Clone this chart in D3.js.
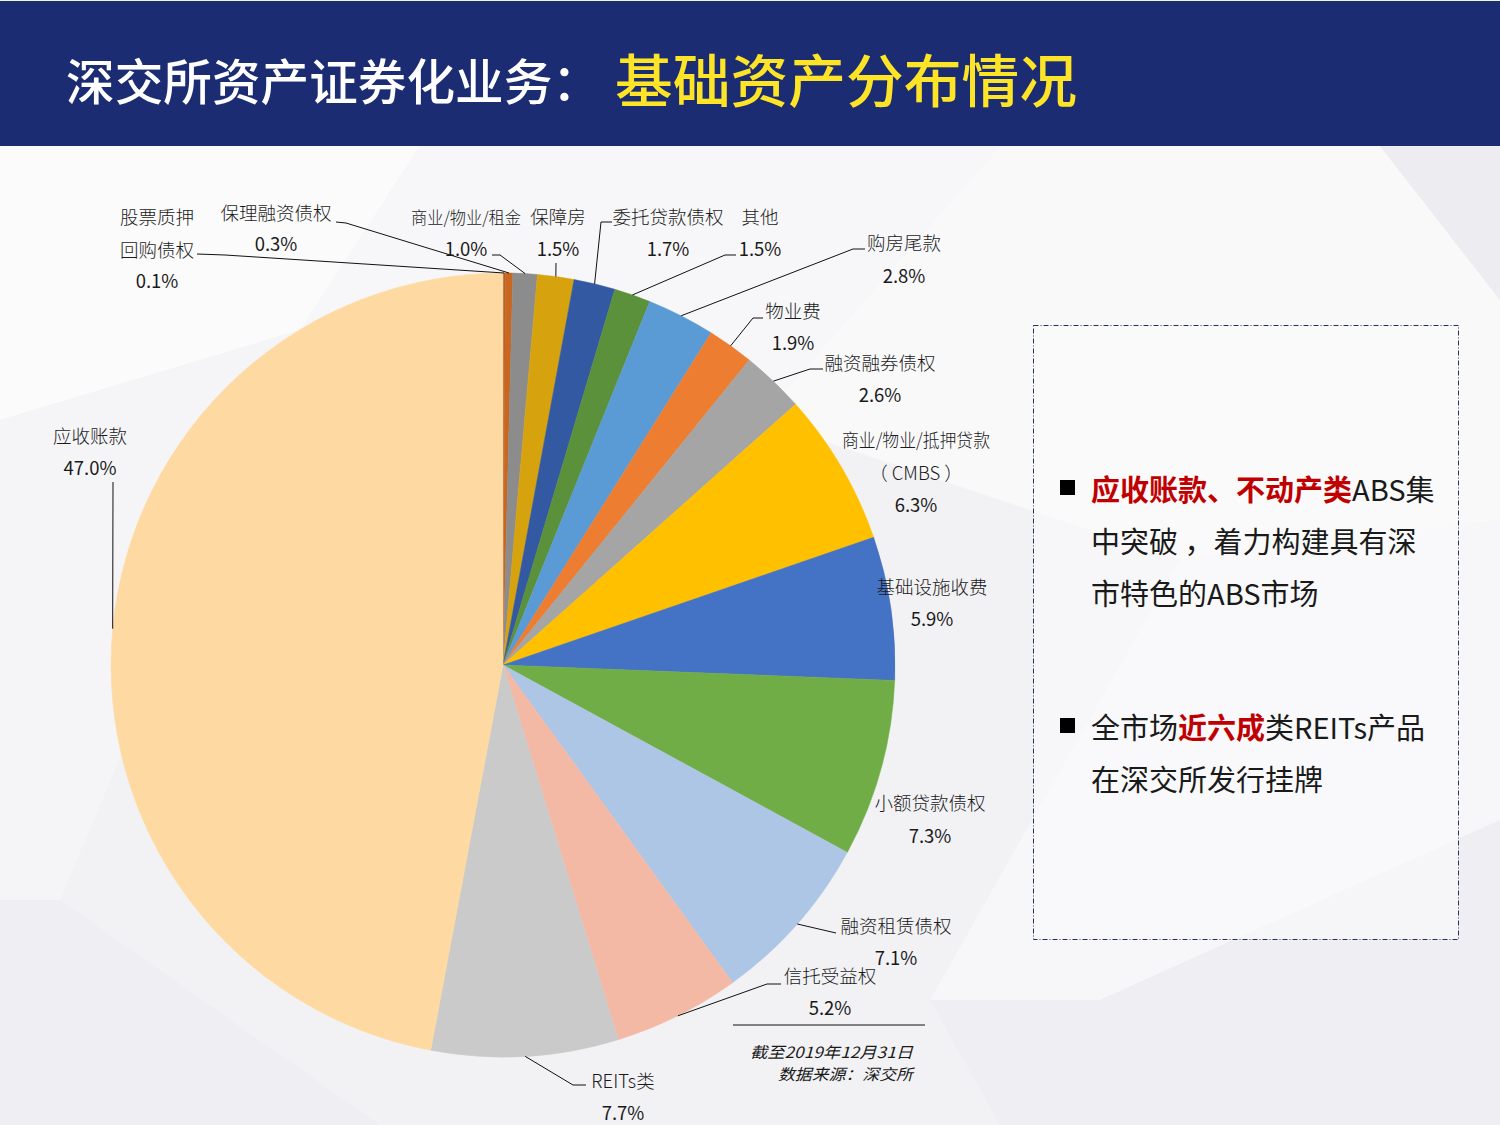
<!DOCTYPE html>
<html><head><meta charset="utf-8">
<script src="https://cdn.jsdelivr.net/npm/d3@7/dist/d3.min.js"></script>
<style>
html,body{margin:0;padding:0;background:#fff;}
svg{display:block;}
</style></head>
<body>
<svg id="chart" width="1500" height="1125"></svg>
<script>
// ---------- data ----------
const categories = ["股票质押回购债权","保理融资债权","商业/物业/租金","保障房","委托贷款债权","其他","购房尾款","物业费","融资融券债权","商业/物业/抵押贷款（CMBS）","基础设施收费","小额贷款债权","融资租赁债权","信托受益权","REITs类","应收账款"];
const values = [0.1,0.3,1.0,1.5,1.7,1.5,2.8,1.9,2.6,6.3,5.9,7.3,7.1,5.2,7.7,47.0];
const sliceColors = ["#b8612a","#c9661f","#8c8c8c","#d6a30f","#3459a3","#5a913a","#5b9bd5","#ed7d31","#a5a5a5","#ffc000","#4472c4","#70ad47","#adc6e5","#f4b9a4","#cacaca","#fedaa2"];
const titleWhite = "深交所资产证券化业务：";
const titleYellow = "基础资产分布情况";
const noteLines = ["截至2019年12月31日","数据来源：深交所"];

// ---------- layout (positions of labels, not data) ----------
const labelLayout = [
  {lines:["股票质押","回购债权"], x:157, y:216, py:280, lead:[[197,254],[225,255]]},
  {lines:["保理融资债权"], x:276, y:212, py:243, lead:[[336,222],[346,223]]},
  {lines:["商业/物业/租金"], x:466, y:216, py:248, lead:[[492,255],[500,255]], tl:110, fs:17},
  {lines:["保障房"], x:558, y:216, py:248, lead:[[556,263]]},
  {lines:["委托贷款债权"], x:668, y:216, py:248, lead:[[612,222],[601,222]]},
  {lines:["其他"], x:760, y:216, py:248, lead:[[736,255],[725,255]]},
  {lines:["购房尾款"], x:904, y:242, py:275, lead:[[865,249],[853,249]]},
  {lines:["物业费"], x:793, y:310, py:342, lead:[[763,318],[753,318]]},
  {lines:["融资融券债权"], x:880, y:362, py:394, lead:[[823,369],[810,369]]},
  {lines:["商业/物业/抵押贷款","（ CMBS ）"], x:916, y:439, py:504, lead:null, tl:148},
  {lines:["基础设施收费"], x:932, y:586, py:618, lead:null},
  {lines:["小额贷款债权"], x:930, y:802, py:835, lead:null},
  {lines:["融资租赁债权"], x:896, y:925, py:957, lead:[[836,933]]},
  {lines:["信托受益权"], x:830, y:975, py:1007, lead:[[781,984],[767,984]]},
  {lines:["REITs类"], x:623, y:1080, py:1112, lead:[[586,1085],[573,1085]]},
  {lines:["应收账款"], x:90, y:435, py:467, lead:[[113,482]]}
];

const svg = d3.select("#chart");
const W = 1500, H = 1125;

// ---------- background ----------
svg.append("rect").attr("width",W).attr("height",H).attr("fill","#f2f2f5");
const bgPolys = [
  {pts:[[0,146],[420,146],[300,330],[0,420]], c:"#fbfbfc"},
  {pts:[[420,146],[1000,146],[760,420],[300,330]], c:"#f7f7f9"},
  {pts:[[1000,146],[1380,146],[1500,300],[1500,520],[1180,560],[760,420]], c:"#f9f9fa"},
  {pts:[[1380,146],[1500,146],[1500,300]], c:"#ededf1"},
  {pts:[[0,420],[300,330],[60,900],[0,900]], c:"#f5f5f8"},
  {pts:[[1180,560],[1500,520],[1500,820],[1100,1000],[930,1000]], c:"#f7f7f9"},
  {pts:[[930,1000],[1100,1000],[1500,820],[1500,1125],[1000,1125]], c:"#efeff3"},
  {pts:[[0,900],[60,900],[380,1125],[0,1125]], c:"#efeff3"}
];
svg.append("g").selectAll("polygon").data(bgPolys).join("polygon")
  .attr("points",d=>d.pts.map(p=>p.join(",")).join(" "))
  .attr("fill",d=>d.c);

// ---------- header ----------
svg.append("rect").attr("x",0).attr("y",1).attr("width",W).attr("height",145).attr("fill","#1b2c72");
const font = "'Noto Sans CJK SC','Noto Sans',sans-serif";
svg.append("text").attr("x",66).attr("y",100).attr("font-family",font)
  .attr("fill","#ffffff").attr("font-size",49).attr("font-weight",500)
  .attr("textLength",535).attr("lengthAdjust","spacingAndGlyphs").text(titleWhite);
svg.append("text").attr("x",615).attr("y",102).attr("font-family",font)
  .attr("fill","#fde427").attr("font-size",57).attr("font-weight",500)
  .attr("textLength",462).attr("lengthAdjust","spacingAndGlyphs").text(titleYellow);

// ---------- pie ----------
const cx = 503, cy = 665, R = 392;
const pie = d3.pie().sort(null).value(d=>d)(values);
const arc = d3.arc().innerRadius(0).outerRadius(R);
const g = svg.append("g").attr("transform",`translate(${cx},${cy})`);
g.selectAll("path").data(pie).join("path")
  .attr("d",arc).attr("fill",(d,i)=>sliceColors[i])
  .attr("stroke",(d,i)=>sliceColors[i]).attr("stroke-width",0.5);

// ---------- leader lines ----------
const lg = svg.append("g");
pie.forEach((d,i)=>{
  const L = labelLayout[i];
  if(!L.lead) return;
  const mid = (d.startAngle + d.endAngle)/2;
  const ex = cx + Math.sin(mid)*R, ey = cy - Math.cos(mid)*R;
  const pts = L.lead.concat([[ex,ey]]);
  lg.append("polyline").attr("points",pts.map(p=>p.join(",")).join(" "))
    .attr("fill","none").attr("stroke","#111").attr("stroke-width",1);
});

// ---------- labels ----------
const tg = svg.append("g").attr("font-family",font).attr("fill","#1a1a1a").attr("text-anchor","middle");
labelLayout.forEach((L,i)=>{
  L.lines.forEach((s,k)=>{
    const t = tg.append("text").attr("x",L.x).attr("y",L.y + k*33).attr("dominant-baseline","central")
      .attr("font-size",(k===0 && L.fs) ? L.fs : 18.5).attr("font-weight",300).text(s);
    if(L.tl && k===0) t.attr("textLength",L.tl).attr("lengthAdjust","spacingAndGlyphs");
  });
  tg.append("text").attr("x",L.x).attr("y",L.py).attr("dominant-baseline","central")
    .attr("font-size",18.5).attr("font-weight",400).text(d3.format(".1f")(values[i])+"%");
});

// ---------- footnote ----------
svg.append("line").attr("x1",733).attr("x2",925).attr("y1",1025).attr("y2",1025)
  .attr("stroke","#111").attr("stroke-width",1.2);
const noteLen = [163, 135];
noteLines.forEach((s,k)=>{
  svg.append("text").attr("x",913 - noteLen[k]).attr("y",1051+k*22).attr("dominant-baseline","central")
    .attr("font-family",font).attr("font-style","italic")
    .attr("font-size",15.5).attr("fill","#1a1a1a")
    .attr("textLength",noteLen[k]).attr("lengthAdjust","spacingAndGlyphs")
    .text(s);
});

// ---------- right text box ----------
svg.append("rect").attr("x",1033.5).attr("y",325.5).attr("width",425).attr("height",614)
  .attr("fill","#fafafb").attr("fill-opacity",0.6)
  .attr("stroke","#23315f").attr("stroke-width",1).attr("stroke-dasharray","5,2,1,2");
const bullets = [
  [[["应收账款、不动产类",true],["ABS集",false]],[["中突破 ，着力构建具有深",false]],[["市特色的ABS市场",false]]],
  [[["全市场",false],["近六成",true],["类REITs产品",false]],[["在深交所发行挂牌",false]]]
];
const bulletY = [488, 726];
bullets.forEach((b,bi)=>{
  svg.append("rect").attr("x",1060).attr("y",bulletY[bi]-8).attr("width",15).attr("height",15).attr("fill","#000");
  b.forEach((line,li)=>{
    const t = svg.append("text").attr("x",1091).attr("y",bulletY[bi]+li*52).attr("dominant-baseline","central")
      .attr("font-family",font).attr("font-size",29);
    line.forEach(([s,red])=>{
      t.append("tspan").attr("fill",red?"#c00000":"#1a1a1a").attr("font-weight",red?700:400).text(s);
    });
  });
});
</script>
</body></html>
